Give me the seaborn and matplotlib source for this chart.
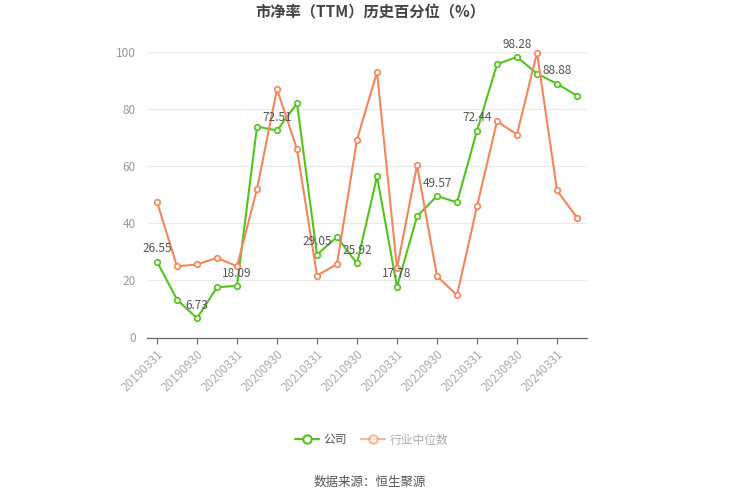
import matplotlib
matplotlib.use("Agg")
import matplotlib.pyplot as plt
import seaborn as sns
import pandas as pd

dates = ["20190331", "20190630", "20190930", "20191231", "20200331", "20200630",
         "20200930", "20201231", "20210331", "20210630", "20210930", "20211231",
         "20220331", "20220630", "20220930", "20221231", "20230331", "20230630",
         "20230930", "20231231", "20240331", "20240630"]
company = [26.55, 13.3, 6.73, 17.6, 18.09, 73.9, 72.51, 82.0, 29.05, 35.2, 25.92, 56.4,
           17.78, 42.4, 49.57, 47.3, 72.44, 95.7, 98.28, 92.4, 88.88, 84.7]
industry = [47.5, 24.9, 25.6, 27.9, 24.9, 52.0, 87.0, 65.9, 21.7, 25.7, 69.3, 93.0,
            24.2, 60.3, 21.5, 14.8, 46.0, 75.7, 71.1, 99.8, 51.5, 42.0]
series_names = ["公司", "行业中位数"]
title = "市净率（TTM）历史百分位（%）"
source = "数据来源：恒生聚源"

GREEN = "#52c41a"
ORANGE = "#f5855a"

sns.set_theme(style="white")
plt.rcParams['font.family'] = ['Noto Sans CJK SC', 'DejaVu Sans']

df = pd.DataFrame({"date": dates * 2,
                   "value": company + industry,
                   "series": [series_names[0]] * len(dates) + [series_names[1]] * len(dates)})
df["x"] = list(range(len(dates))) * 2

fig = plt.figure(figsize=(7.39, 5.0), dpi=100)
ax = fig.add_axes([147 / 739, 1 - 337.5 / 500, 440 / 739, (337.5 - 52) / 500])

sns.lineplot(data=df, x="x", y="value", hue="series", palette=[GREEN, ORANGE],
             marker="o", markersize=4, markerfacecolor="white", markeredgewidth=1.2,
             linewidth=1.5, ax=ax, legend=False)
for ln in ax.lines:
    ln.set_clip_on(False)
    ln.set_markeredgecolor(ln.get_color())

for i in range(0, len(dates), 2):
    ax.text(i, company[i] + 2.2, f"{company[i]:.2f}", ha="center", va="bottom",
            fontsize=8.5, color="#555555")

ax.set_xlim(-0.5, len(dates) - 0.5)
ax.set_ylim(0, 100)
ax.set_yticks(range(0, 101, 20))
ax.set_yticklabels([str(v) for v in range(0, 101, 20)], color="#999999", fontsize=8.5)
ax.set_xticks(range(0, len(dates), 2))
ax.set_xticklabels(dates[::2], rotation=45, ha="right", rotation_mode="anchor",
                   color="#aaaaaa", fontsize=8.5)
ax.tick_params(axis="x", length=4, width=0.8, color="#666666", bottom=True, pad=3)
ax.tick_params(axis="y", length=0, pad=8)
ax.set_xlabel("")
ax.set_ylabel("")
ax.grid(axis="y", color="#e8e8e8", linewidth=0.8)
ax.set_axisbelow(True)
for s in ["top", "right", "left"]:
    ax.spines[s].set_visible(False)
ax.spines["bottom"].set_color("#666666")
ax.spines["bottom"].set_linewidth(0.9)

fig.text(370 / 739, 1 - 12 / 500, title, ha="center", va="center",
         fontsize=11, fontweight="bold", color="#444444")

# legend
from matplotlib.lines import Line2D
handles = [Line2D([], [], color=GREEN, marker="o", markersize=6, markerfacecolor="white",
                  markeredgecolor=GREEN, markeredgewidth=1.5, linewidth=1.6),
           Line2D([], [], color=ORANGE, marker="o", markersize=6, markerfacecolor="white",
                  markeredgecolor=ORANGE, markeredgewidth=1.5, linewidth=1.6, alpha=0.6)]
leg = fig.legend(handles, series_names, loc="center", bbox_to_anchor=(372 / 739, 1 - 440 / 500),
                 ncol=2, frameon=False, fontsize=8.5, handlelength=2.0, columnspacing=1.2,
                 handletextpad=0.4)
leg.get_texts()[0].set_color("#555555")
leg.get_texts()[1].set_color("#aaaaaa")

fig.text(370 / 739, 1 - 482 / 500, source, ha="center", va="center",
         fontsize=9, color="#555555")

fig.savefig("out.png", dpi=100)
